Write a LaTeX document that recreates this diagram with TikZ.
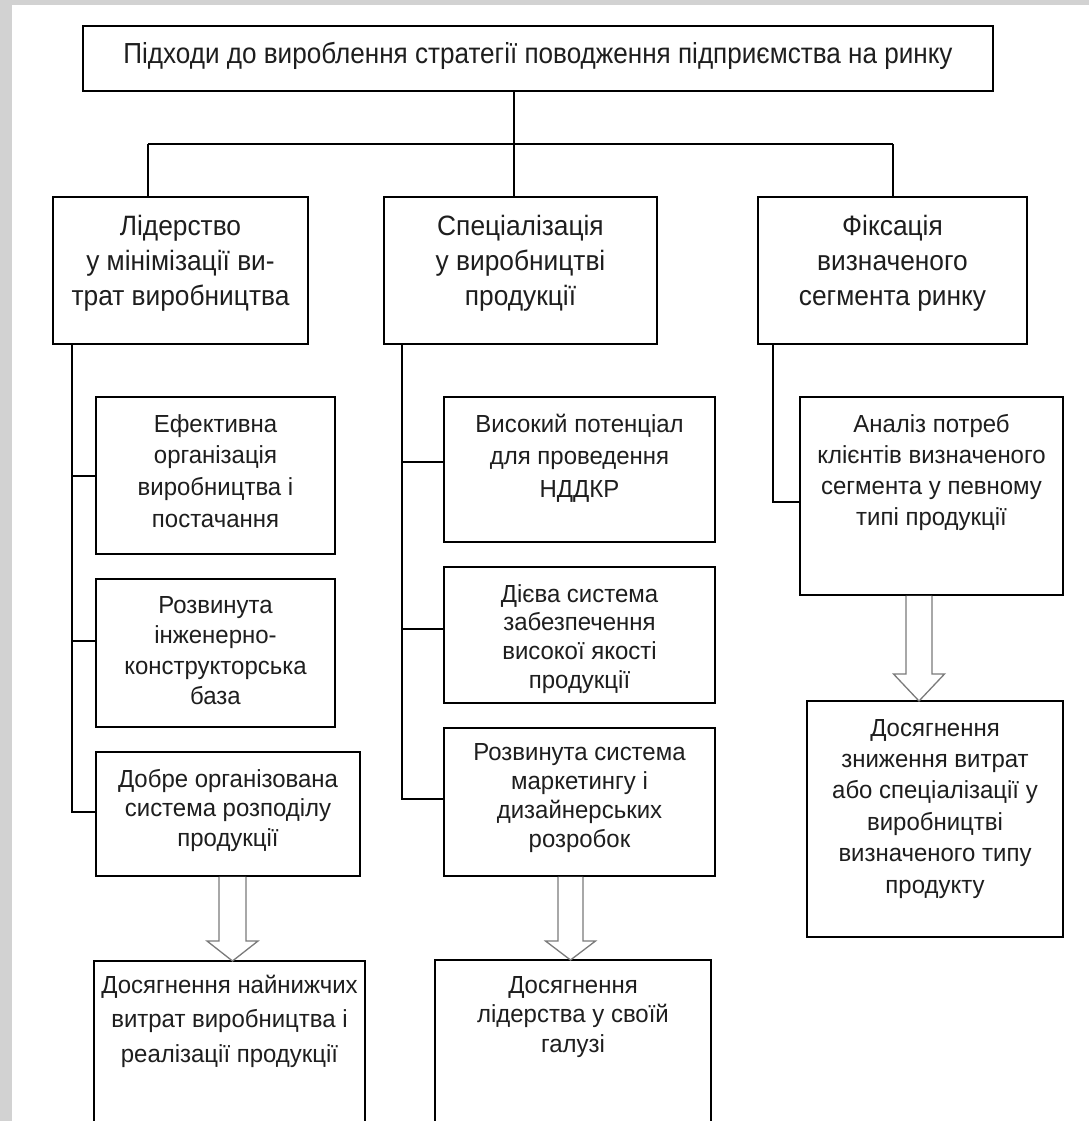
\documentclass[tikz,border=0pt]{standalone}
\usepackage{fontspec}
\setmainfont{Liberation Sans}
\newfontfamily\topfont[FakeStretch=0.9]{Liberation Sans}
\newfontfamily\twofont[FakeStretch=0.94]{Liberation Sans}
\newfontfamily\threefont[FakeStretch=0.97]{Liberation Sans}
\usetikzlibrary{calc}
\definecolor{bggray}{HTML}{D2D2D2}
\definecolor{txt}{HTML}{1E1E1E}
\definecolor{arrowgray}{HTML}{7A7A7A}
\def\bxfont{\threefont}
% #1 name, #2 x1, #3 y1, #4 x2, #5 y2, #6 first baseline y, #7 font size, #8 baselineskip, #9 text
\newcommand\bx[9]{%
  \pgfmathsetmacro\bxW{#4-#2}%
  \pgfmathsetmacro\bxH{#5-#3}%
  \pgfmathsetmacro\bxX{(#2+#4)/2}%
  \pgfmathsetmacro\bxY{(#3+#5)/2}%
  \pgfmathsetmacro\bxC{0.85*#7}%
  \pgfmathsetmacro\bxV{#6-#3-0.85*#7}%
  \node[box, minimum width=\bxW pt, minimum height=\bxH pt] (#1) at (\bxX,\bxY)
    {\vbox to \bxH pt{\hsize=\bxW pt\linewidth=\bxW pt\parindent=0pt
      \bxfont\fontsize{#7}{#8}\selectfont\centering
      \vskip\bxV pt\rule{0pt}{\bxC pt}#9\par\vfill}};%
}
\begin{document}
\begin{tikzpicture}[x=1pt,y=-1pt,
  box/.style={draw=black, line width=1.5pt, fill=white, inner sep=0pt, outer sep=0pt, text=txt},
  conn/.style={draw=black, line width=1.5pt, line join=miter},
  hollow/.style={draw=arrowgray, line width=1.3pt, fill=white, line join=miter}]

\useasboundingbox (0,0) rectangle (1089,1121);
\clip (0,0) rectangle (1089,1121);
\fill[bggray] (0,0) rectangle (1089,1121);
\fill[white] (12,5) rectangle (1089,1121);

% top
\def\bxfont{\topfont}
\bx{T}{83}{26}{993}{91}{64}{29}{35}{Підходи до вироблення стратегії поводження підприємства на ринку}

% level 2
\def\bxfont{\twofont}
\bx{A}{53}{197}{308}{344}{235}{28}{35}{Лідерство\\у мінімізації ви-\\трат виробництва}
\bx{B}{384}{197}{657}{344}{235}{28}{35}{Спеціалізація\\у виробництві\\продукції}
\bx{C}{758}{197}{1027}{344}{235}{28}{35}{Фіксація\\визначеного\\сегмента ринку}

% left column
\def\bxfont{\threefont}
\bx{L1}{96}{397}{335}{554}{432}{24.7}{31.7}{Ефективна\\організація\\виробництва і\\постачання}
\bx{L2}{96}{579}{335}{727}{613}{24.7}{30.5}{Розвинута\\інженерно-\\конструкторська\\база}
\bx{L3}{96}{752}{360}{876}{787}{24.7}{29.5}{Добре організована\\система розподілу\\продукції}
\bx{L4}{94}{961}{365}{1180}{993}{24.7}{34.5}{Досягнення найнижчих\\витрат виробництва і\\реалізації продукції}

% middle column
\bx{M1}{444}{397}{715}{542}{432}{24.7}{32.5}{Високий потенціал\\для проведення\\НДДКР}
\bx{M2}{444}{567}{715}{703}{602}{24.7}{28.8}{Дієва система\\забезпечення\\високої якості\\продукції}
\bx{M3}{444}{728}{715}{876}{760}{24.7}{29}{Розвинута система\\маркетингу і\\дизайнерських\\розробок}
\bx{M4}{435}{960}{711}{1180}{993}{24.7}{29.5}{Досягнення\\лідерства у своїй\\галузі}

% right column
\bx{R1}{800}{397}{1063}{595}{432}{24.7}{31}{Аналіз потреб\\клієнтів визначеного\\сегмента у певному\\типі продукції}
\bx{R2}{807}{701}{1063}{937}{736}{24.7}{31.4}{Досягнення\\зниження витрат\\або спеціалізації у\\виробництві\\визначеного типу\\продукту}

% level 1 -> level 2 connectors
\coordinate (hl) at (148,144);
\coordinate (hr) at (893,144);
\coordinate (hj) at (514,144);
\draw[conn] (hl) -- (hr);
\draw[conn] (T.south -| hj) -- (B.north -| hj);
\draw[conn] (hl) -- (A.north -| hl);
\draw[conn] (hr) -- (C.north -| hr);

% left trunk
\coordinate (bL1) at (72,476);
\coordinate (bL2) at (72,641);
\coordinate (bL3) at (72,812);
\draw[conn] (A.south -| bL1) -- (bL3) -- (L3.west |- bL3);
\draw[conn] (bL1) -- (L1.west |- bL1);
\draw[conn] (bL2) -- (L2.west |- bL2);

% middle trunk
\coordinate (bM1) at (402,462);
\coordinate (bM2) at (402,629);
\coordinate (bM3) at (402,799);
\draw[conn] (B.south -| bM1) -- (bM3) -- (M3.west |- bM3);
\draw[conn] (bM1) -- (M1.west |- bM1);
\draw[conn] (bM2) -- (M2.west |- bM2);

% right trunk
\coordinate (bR1) at (773,502);
\draw[conn] (C.south -| bR1) -- (bR1) -- (R1.west |- bR1);

% hollow block arrows
\coordinate (aL) at (232.5,0);
\draw[hollow] ($(L3.south -| aL)+(-13.5,0.8)$) -- ($(L4.north -| aL)+(-13.5,-20)$) -- ($(L4.north -| aL)+(-25.5,-20)$) -- (L4.north -| aL) -- ($(L4.north -| aL)+(25.5,-20)$) -- ($(L4.north -| aL)+(13.5,-20)$) -- ($(L3.south -| aL)+(13.5,0.8)$);
\coordinate (aM) at (570.5,0);
\draw[hollow] ($(M3.south -| aM)+(-12.5,0.8)$) -- ($(M4.north -| aM)+(-12.5,-19)$) -- ($(M4.north -| aM)+(-25,-19)$) -- (M4.north -| aM) -- ($(M4.north -| aM)+(25,-19)$) -- ($(M4.north -| aM)+(12.5,-19)$) -- ($(M3.south -| aM)+(12.5,0.8)$);
\coordinate (aR) at (919,0);
\draw[hollow] ($(R1.south -| aR)+(-13,0.8)$) -- ($(R2.north -| aR)+(-13,-27)$) -- ($(R2.north -| aR)+(-25.5,-27)$) -- (R2.north -| aR) -- ($(R2.north -| aR)+(25.5,-27)$) -- ($(R2.north -| aR)+(13,-27)$) -- ($(R1.south -| aR)+(13,0.8)$);
\end{tikzpicture}
\end{document}
